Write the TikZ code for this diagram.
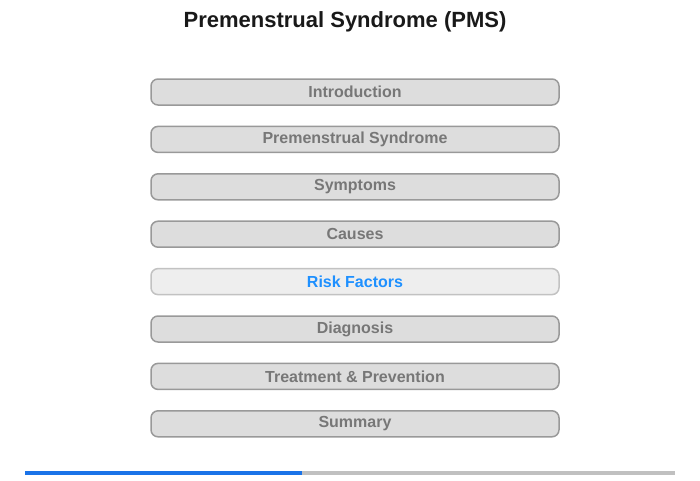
\documentclass[tikz,border=0pt]{standalone}
\usepackage{fontspec}
\setmainfont{Liberation Sans}
\usetikzlibrary{positioning}
\definecolor{mygrey}{RGB}{221,221,221}
\definecolor{mylight}{RGB}{238,238,238}
\definecolor{myborder}{RGB}{153,153,153}
\definecolor{mytext}{RGB}{119,119,119}
\definecolor{myblue}{RGB}{30,144,255}
\definecolor{mybar}{RGB}{26,115,232}
\definecolor{myrail}{RGB}{192,192,192}

\begin{document}
\begin{tikzpicture}[
  x=1pt, y=-1pt,
  mybutton/.style={
    draw=myborder,
    line width=1.5pt,
    fill=mygrey,
    rounded corners=7pt,
    minimum width=408pt,
    minimum height=26pt,
    text=mytext,
    font=\fontsize{16}{18}\selectfont\bfseries
    },
  myactive/.style={
    mybutton,
    draw=myborder!60,
    fill=mylight,
    text=myblue
  }
]
\useasboundingbox (0,0) rectangle (700,480);

\node[font=\fontsize{22}{26}\selectfont\bfseries, text=black!90] (title) at (345,22) {Premenstrual Syndrome (PMS)};

\foreach \Label/\Kind [count=\Labeli from 0] in {Introduction/mybutton, Premenstrual Syndrome/mybutton, Symptoms/mybutton, Causes/mybutton, Risk Factors/myactive, Diagnosis/mybutton, Treatment \& Prevention/mybutton, Summary/mybutton}
  \node[\Kind] (item\Labeli) at (355,{92+47.4*\Labeli}) {\Label};

\coordinate (railstart) at (25,473);
\coordinate (railmid) at (302,473);
\coordinate (railend) at (675,473);
\draw[myrail, line width=4pt] (railmid) -- (railend);
\draw[mybar, line width=4pt] (railstart) -- (railmid);

\end{tikzpicture}
\end{document}
